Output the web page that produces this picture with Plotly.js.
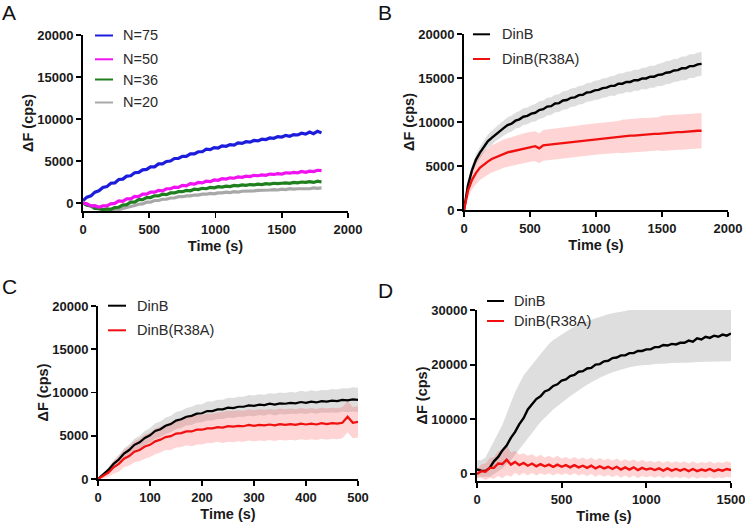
<!DOCTYPE html>
<html>
<head>
<meta charset="utf-8">
<script src="https://cdn.plot.ly/plotly-3.0.1.min.js"></script>
<style>html,body{margin:0;padding:0;background:#fff;}#chart{width:745px;height:524px;}</style>
</head>
<body>
<div id="chart"></div>
<script>
// ---------- Panel A data (time, s) ----------
const tA = [0,30,60,90,120,150,180,210,240,270,300,330,360,390,420,450,480,510,540,570,600,630,660,690,720,750,780,810,840,870,900,930,960,990,1020,1050,1080,1110,1140,1170,1200,1230,1260,1290,1320,1350,1380,1410,1440,1470,1500,1530,1560,1590,1620,1650,1680,1710,1740,1770,1800];
const aLabels = ["N=75","N=50","N=36","N=20"];
const aColors = ["#1c1cdc","#f012f0","#1f7f1f","#a8a8a8"];
const n75 = [300,700,850,1300,1450,1850,1950,2350,2400,2800,2850,3200,3250,3600,3650,3950,4000,4300,4300,4650,4650,4950,5000,5300,5300,5550,5550,5850,5850,6100,6100,6400,6350,6600,6550,6800,6750,6950,6900,7150,7100,7300,7250,7450,7400,7600,7550,7750,7700,7900,7850,8050,7950,8150,8100,8300,8200,8450,8250,8550,8350];
const n50 = [0,-100,-350,-300,-500,-350,-350,-100,-50,250,200,500,500,800,750,1050,1050,1300,1300,1500,1450,1700,1700,1900,1850,2100,2050,2300,2250,2450,2400,2600,2550,2750,2700,2900,2850,3000,2950,3100,3050,3200,3150,3300,3250,3350,3300,3450,3400,3500,3450,3600,3550,3650,3600,3750,3650,3800,3750,3900,3850];
const n36 = [0,-250,-350,-650,-650,-800,-700,-750,-550,-500,-250,-200,100,100,400,400,650,650,850,850,1050,1000,1200,1200,1350,1350,1500,1450,1650,1600,1750,1700,1850,1800,1950,1900,2000,1950,2100,2050,2150,2100,2200,2150,2250,2200,2300,2250,2350,2300,2350,2400,2350,2450,2400,2500,2450,2550,2450,2600,2500];
const n20 = [0,-250,-350,-650,-700,-900,-850,-950,-850,-800,-650,-550,-400,-300,-150,-100,100,100,300,300,450,450,600,600,750,750,850,850,950,950,1050,1050,1150,1100,1200,1200,1300,1250,1350,1300,1400,1400,1450,1450,1500,1500,1550,1550,1600,1550,1650,1600,1700,1650,1700,1700,1750,1700,1800,1750,1800];

// ---------- Panel B data ----------
const tB = tA;
const dinbB = [0,2800,4500,5700,6500,7200,7800,8200,8600,8950,9300,9650,9800,10150,10300,10600,10700,10950,11050,11350,11450,11750,11800,12100,12150,12450,12500,12750,12800,13050,13100,13350,13400,13600,13650,13850,13900,14100,14100,14350,14350,14550,14550,14750,14750,14950,14950,15150,15150,15350,15400,15600,15650,15850,15900,16100,16100,16350,16350,16550,16600];
const dinbBsd = [0,300,500,600,650,700,750,800,800,850,850,900,900,900,950,950,950,950,1000,1000,1000,1000,1000,1000,1000,1050,1050,1050,1050,1050,1050,1050,1050,1100,1100,1100,1100,1100,1150,1150,1150,1150,1200,1200,1200,1200,1250,1250,1250,1250,1300,1300,1300,1300,1300,1350,1350,1350,1350,1350,1350];
const r38aB = [0,2200,3400,4200,4800,5200,5500,5800,6000,6200,6400,6550,6650,6750,6900,7000,7100,7200,7250,7000,7350,7400,7450,7500,7600,7650,7700,7750,7800,7850,7900,7950,8000,8050,8100,8150,8200,8250,8250,8300,8350,8400,8450,8450,8500,8550,8550,8600,8650,8650,8700,8750,8750,8800,8850,8850,8900,8900,8950,9000,9000];
const r38aBsd = [0,800,1100,1300,1400,1500,1500,1550,1550,1600,1600,1600,1650,1650,1650,1700,1700,1700,1700,1700,1750,1750,1750,1750,1750,1750,1750,1750,1750,1750,1800,1800,1800,1800,1800,1800,1800,1800,1800,1800,1900,1900,1900,1900,1900,1900,1900,1900,1900,1900,2000,2000,2000,2000,2000,2000,2000,2000,2000,2000,2000];

// ---------- Panel C data ----------
const tC = [0,10,20,30,40,50,60,70,80,90,100,110,120,130,140,150,160,170,180,190,200,210,220,230,240,250,260,270,280,290,300,310,320,330,340,350,360,370,380,390,400,410,420,430,440,450,460,470,480,490,500];
const dinbC = [0,550,1050,1750,2250,2950,3350,3950,4250,4750,5050,5550,5750,6150,6350,6750,6900,7200,7300,7550,7600,7850,7850,8050,8050,8250,8200,8350,8350,8500,8450,8600,8550,8700,8600,8750,8700,8800,8750,8900,8800,8950,8850,9000,8950,9050,9000,9150,9100,9200,9150];
const dinbCsd = [0,200,300,400,500,600,650,700,750,800,850,900,900,950,950,1000,1000,1000,1050,1050,1050,1100,1100,1100,1100,1150,1150,1150,1150,1200,1200,1200,1200,1200,1250,1250,1250,1250,1250,1300,1300,1300,1300,1300,1300,1350,1350,1350,1350,1400,1400];
const r38aC = [0,350,750,1350,1750,2350,2650,3150,3350,3750,3950,4350,4550,4850,4950,5250,5300,5500,5500,5700,5700,5850,5850,6000,5950,6100,6050,6150,6100,6250,6150,6250,6200,6300,6200,6350,6250,6350,6250,6400,6300,6400,6300,6450,6350,6450,6400,6500,7200,6500,6600];
const r38aCsd = [0,300,500,700,900,1000,1100,1200,1300,1400,1400,1500,1500,1500,1600,1600,1600,1600,1700,1700,1700,1700,1700,1700,1800,1800,1800,1800,1800,1800,1800,1800,1800,1800,1800,1800,1800,1800,1800,1800,1800,1800,1800,1800,1800,1800,1800,1800,1800,1800,1800];

// ---------- Panel D data ----------
const tD = [0,25,50,75,100,125,150,175,200,225,250,275,300,325,350,375,400,425,450,475,500,525,550,575,600,625,650,675,700,725,750,775,800,825,850,875,900,925,950,975,1000,1025,1050,1075,1100,1125,1150,1175,1200,1225,1250,1275,1300,1325,1350,1375,1400,1425,1450,1475,1500];
const dinbD = [800,600,550,1100,2300,3100,4300,5200,6600,7700,9100,10200,11800,12700,13700,14200,15100,15400,16100,16400,17100,17300,17900,18100,18700,18800,19300,19400,20000,20100,20600,20700,21200,21300,21700,21700,22100,22100,22500,22500,22800,22800,23200,23200,23600,23500,23800,23700,24000,24000,24400,24200,24800,24600,25100,24900,25300,25100,25500,25300,25700];
const dinbDhi = [2500,2500,3000,4500,6000,7500,9000,11000,13000,15000,16500,18000,19000,20000,21000,22000,23000,23800,24500,25000,25500,26000,26500,27000,27300,27600,28000,28200,28500,28700,29000,29200,29400,29500,29700,29800,30000,30500,30500,31000,31000,31000,31000,31000,31000,31000,31000,31000,31000,31000,31000,31000,31000,31000,31000,31000,31000,31000,31000,31000,31000];
const dinbDlo = [-500,-500,-500,-500,0,500,1000,1800,2500,3500,4500,5500,6500,7500,8500,9500,10300,11000,11800,12500,13000,13600,14200,14800,15300,15800,16300,16800,17200,17600,18000,18300,18600,18900,19100,19300,19500,19700,19800,19900,20000,20000,20100,20100,20200,20200,20300,20300,20300,20400,20400,20400,20500,20500,20500,20500,20600,20600,20600,20600,20600];
const r38aD = [0,500,400,1100,1100,1900,1800,2600,1700,2200,1600,2000,1500,1900,1400,1800,1400,1700,1300,1700,1300,1600,1200,1600,1200,1500,1100,1500,1000,1400,1000,1300,900,1300,800,1200,800,1200,700,1100,800,1000,700,1000,600,1000,600,900,600,900,500,900,500,800,600,900,500,800,600,900,700];
const r38aDsd = [800,1200,1500,1800,2000,2300,2600,2800,2200,2000,1900,1800,1800,1700,1700,1700,1600,1600,1600,1600,1500,1500,1500,1500,1500,1500,1500,1500,1500,1500,1500,1500,1500,1500,1500,1500,1500,1500,1500,1500,1400,1400,1400,1400,1400,1400,1400,1400,1400,1400,1400,1400,1400,1400,1400,1400,1400,1400,1400,1400,1400];

const dLabels = ["DinB","DinB(R38A)"];
const dColors = ["#000000","#f01010"];
const panelLetters = ["A","B","C","D"];

// ---------- helpers ----------
const W = 745, H = 524;
const px = x => x / W;
const py = y => 1 - y / H;

function lineTrace(x, y, color, width, xa, ya, name) {
  return {type:'scatter', mode:'lines', x:x, y:y, xaxis:xa, yaxis:ya, name:name,
          line:{color:color, width:width}, hoverinfo:'skip', showlegend:false};
}
function bandTrace(x, hi, lo, fill, xa, ya) {
  const xs = x.concat(x.slice().reverse());
  const ys = hi.concat(lo.slice().reverse());
  return {type:'scatter', mode:'lines', x:xs, y:ys, xaxis:xa, yaxis:ya, fill:'toself',
          fillcolor:fill, line:{width:0, color:fill}, hoverinfo:'skip', showlegend:false};
}
const plus = (m, s) => m.map((v,i) => v + s[i]);
const minus = (m, s) => m.map((v,i) => v - s[i]);

const GRAY = 'rgba(200,200,200,0.6)';
const PINK = 'rgba(255,60,60,0.22)';

const traces = [
  // A
  lineTrace(tA, n20, aColors[3], 3.2, 'x', 'y', aLabels[3]),
  lineTrace(tA, n36, aColors[2], 3.2, 'x', 'y', aLabels[2]),
  lineTrace(tA, n50, aColors[1], 3.2, 'x', 'y', aLabels[1]),
  lineTrace(tA, n75, aColors[0], 3.2, 'x', 'y', aLabels[0]),
  // B
  bandTrace(tB, plus(dinbB, dinbBsd), minus(dinbB, dinbBsd), GRAY, 'x2', 'y2'),
  bandTrace(tB, plus(r38aB, r38aBsd), minus(r38aB, r38aBsd), PINK, 'x2', 'y2'),
  lineTrace(tB, dinbB, dColors[0], 2.4, 'x2', 'y2', dLabels[0]),
  lineTrace(tB, r38aB, dColors[1], 2.4, 'x2', 'y2', dLabels[1]),
  // C
  bandTrace(tC, plus(dinbC, dinbCsd), minus(dinbC, dinbCsd), GRAY, 'x3', 'y3'),
  bandTrace(tC, plus(r38aC, r38aCsd), minus(r38aC, r38aCsd), PINK, 'x3', 'y3'),
  lineTrace(tC, dinbC, dColors[0], 2.2, 'x3', 'y3', dLabels[0]),
  lineTrace(tC, r38aC, dColors[1], 2.2, 'x3', 'y3', dLabels[1]),
  // D
  bandTrace(tD, dinbDhi, dinbDlo, GRAY, 'x4', 'y4'),
  bandTrace(tD, plus(r38aD, r38aDsd), minus(r38aD, r38aDsd), PINK, 'x4', 'y4'),
  lineTrace(tD, dinbD, dColors[0], 2.4, 'x4', 'y4', dLabels[0]),
  lineTrace(tD, r38aD, dColors[1], 2.4, 'x4', 'y4', dLabels[1])
];

const FONT = 'Liberation Sans, Arial, sans-serif';
const tickFont = {family:FONT, size:13, weight:'bold', color:'#1a1a1a'};
const titleFont = {family:FONT, size:14.5, weight:'bold', color:'#1a1a1a'};

function xax(dom, range, dtick, anchor) {
  return {domain:dom, range:range, anchor:anchor, tick0:0, dtick:dtick, showgrid:false, zeroline:false,
          showline:true, linecolor:'#000', linewidth:2, ticks:'outside', ticklen:5, tickwidth:1.8,
          tickcolor:'#000', tickfont:tickFont, fixedrange:true, ticklabeloverflow:'allow',
          title:{text:'Time (s)', font:titleFont, standoff:5}};
}
function yax(dom, range, tickvals, anchor) {
  return {domain:dom, range:range, anchor:anchor, tickmode:'array', tickvals:tickvals,
          ticktext:tickvals.map(String), showgrid:false, zeroline:false,
          showline:true, linecolor:'#000', linewidth:2, ticks:'outside', ticklen:5, tickwidth:1.8,
          tickcolor:'#000', tickfont:tickFont, fixedrange:true, ticklabeloverflow:'allow',
          title:{text:'ΔF (cps)', font:titleFont, standoff:0}};
}
const yt20 = [0,5000,10000,15000,20000];
const yt30 = [0,10000,20000,30000];

const layout = {
  width:W, height:H, margin:{l:0,r:0,t:0,b:0}, paper_bgcolor:'#fff', plot_bgcolor:'rgba(0,0,0,0)',
  showlegend:false,
  xaxis:  xax([px(83), px(348)], [0,2000], 500, 'y'),
  yaxis:  yax([py(211), py(35)], [-950,20000], yt20, 'x'),
  xaxis2: xax([px(464), px(728)], [0,2000], 500, 'y2'),
  yaxis2: yax([py(210), py(34)], [0,20000], yt20, 'x2'),
  xaxis3: xax([px(98), px(358)], [0,500], 100, 'y3'),
  yaxis3: yax([py(479), py(306)], [0,20000], yt20, 'x3'),
  xaxis4: xax([px(477), px(731)], [0,1500], 500, 'y4'),
  yaxis4: yax([py(481), py(310)], [-1300,30000], yt30, 'x4'),
  shapes: [], annotations: []
};

// legends drawn as short line segments + text
const legendSpecs = [
  {labels:aLabels, colors:aColors, x0:95, x1:113, tx:121, ys:[35.5,59.3,79.5,102.5]},
  {labels:dLabels, colors:dColors, x0:473, x1:490, tx:500, ys:[34.3,59]},
  {labels:dLabels, colors:dColors, x0:108, x1:126, tx:135, ys:[305.7,330.3]},
  {labels:dLabels, colors:dColors, x0:487, x1:504, tx:512, ys:[301,321]}
];
legendSpecs.forEach(s => {
  s.labels.forEach((lab, i) => {
    layout.shapes.push({type:'line', xref:'paper', yref:'paper', x0:px(s.x0), x1:px(s.x1),
      y0:py(s.ys[i]), y1:py(s.ys[i]), line:{color:s.colors[i], width:2}});
    layout.annotations.push({xref:'paper', yref:'paper', x:px(s.tx), y:py(s.ys[i]),
      xanchor:'left', yanchor:'middle', showarrow:false, text:lab,
      font:{family:FONT, size:14.5, color:'#2a2a2a'}});
  });
});
// panel letters
const letterPos = [[0,12.5],[376,12.5],[0,286],[376,290]];
panelLetters.forEach((L, i) => {
  layout.annotations.push({xref:'paper', yref:'paper', x:px(letterPos[i][0]), y:py(letterPos[i][1]),
    xanchor:'left', yanchor:'middle', showarrow:false, text:L,
    font:{family:FONT, size:21, color:'#111'}});
});

Plotly.newPlot('chart', traces, layout, {staticPlot:true, displayModeBar:false});
</script>
</body>
</html>
